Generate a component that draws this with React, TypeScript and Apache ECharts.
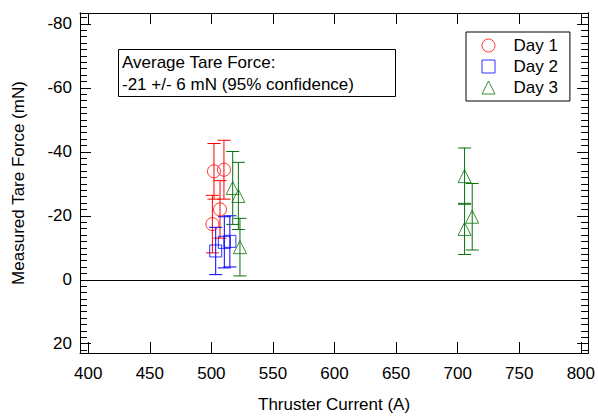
import React, { useEffect, useRef } from "react";
import * as echarts from "echarts";

const FONT = '"Liberation Sans", Arial, Helvetica, sans-serif';

// [current (A), tare force (mN), error half-width (mN)]
const day1: number[][] = [
  [502.1, -33.9, 8.7],
  [510.2, -34.4, 9.2],
  [507.0, -22.0, 9.0],
  [500.8, -17.4, 9.0],
];
const day2: number[][] = [
  [503.5, -9.0, 7.4],
  [510.5, -11.7, 8.0],
  [515.0, -12.0, 8.0],
];
const day3: number[][] = [
  [517.3, -28.7, 11.4],
  [521.9, -26.2, 10.5],
  [523.2, -10.2, 9.0],
  [705.6, -32.4, 8.8],
  [705.6, -15.9, 8.0],
  [711.8, -19.7, 10.4],
];

const xTicks = [400, 450, 500, 550, 600, 650, 700, 750, 800];
const yMajor = [-80, -60, -40, -20, 0, 20];
const yMinor = [
  -82, -80, -78, -76, -74, -72, -70, -68, -66, -64, -62, -60, -58, -56, -54,
  -52, -50, -48, -46, -44, -42, -40, -38, -36, -34, -32, -30, -28, -26, -24,
  -22, -20, -18, -16, -14, -12, -10, -8, -6, -4, -2, 0, 2, 4, 6, 8, 10, 12,
  14, 16, 18, 20, 22,
];

const seriesNames = ["Day 1", "Day 2", "Day 3"];
const seriesColors = ["#ff0000", "#0000ff", "#0a700a"];
const seriesSymbols = ["circle", "rect", "triangle"];
const seriesSizes = [13, 12, 13];
const seriesData = [day1, day2, day3];

const X_MIN = 393.3;
const X_MAX = 805.9;
const Y_MIN = -83.4;
const Y_MAX = 22.9;

export default function App() {
  const ref = useRef<HTMLDivElement>(null);

  useEffect(() => {
    if (!ref.current) return;
    const chart = echarts.init(ref.current, null, { renderer: "svg" });

    const black = "#000";
    const baseX = {
      type: "value",
      min: X_MIN,
      max: X_MAX,
      splitLine: { show: false },
      axisLine: { show: true, onZero: false, lineStyle: { color: black, width: 1 } },
    };
    const baseY = {
      type: "value",
      min: Y_MIN,
      max: Y_MAX,
      inverse: true,
      splitLine: { show: false },
      axisLine: { show: true, onZero: false, lineStyle: { color: black, width: 1 } },
    };

    const scatterSeries = seriesNames.map((name, i) => ({
      name,
      type: "scatter",
      xAxisIndex: 0,
      yAxisIndex: 0,
      symbol: seriesSymbols[i],
      symbolSize: seriesSizes[i],
      data: seriesData[i].map((d) => [d[0], d[1]]),
      itemStyle: {
        color: "rgba(0,0,0,0)",
        borderColor: seriesColors[i],
        borderWidth: 1,
      },
      z: 4,
    }));

    const errSeries = seriesNames.map((name, i) => ({
      name: name + " error",
      type: "custom",
      xAxisIndex: 0,
      yAxisIndex: 0,
      data: seriesData[i],
      encode: { x: 0, y: 1 },
      z: 3,
      renderItem: (params: any, api: any) => {
        const x = api.value(0);
        const y = api.value(1);
        const e = api.value(2);
        const p1 = api.coord([x, y - e]);
        const p2 = api.coord([x, y + e]);
        const hw = 6.5;
        const style = { stroke: seriesColors[i], lineWidth: 1 };
        return {
          type: "group",
          children: [
            { type: "line", shape: { x1: p1[0], y1: p1[1], x2: p2[0], y2: p2[1] }, style },
            { type: "line", shape: { x1: p1[0] - hw, y1: p1[1], x2: p1[0] + hw, y2: p1[1] }, style },
            { type: "line", shape: { x1: p2[0] - hw, y1: p2[1], x2: p2[0] + hw, y2: p2[1] }, style },
          ],
        };
      },
    }));

    const option: any = {
      animation: false,
      backgroundColor: "#fff",
      textStyle: { fontFamily: FONT },
      grid: { left: 80, right: 8, top: 13, bottom: 61, containLabel: false },
      legend: {
        orient: "vertical",
        left: 466,
        top: 32,
        borderColor: black,
        borderWidth: 1,
        padding: [5, 12, 5, 15.5],
        itemWidth: 13,
        itemHeight: 13,
        itemGap: 4,
        textStyle: {
          fontSize: 17,
          color: black,
          fontFamily: FONT,
          padding: [0, 0, 0, 13.5],
        },
        data: seriesNames.map((name, i) => ({
          name,
          icon: seriesSymbols[i],
          itemStyle: {
            color: "rgba(0,0,0,0)",
            borderColor: seriesColors[i],
            borderWidth: 1,
          },
        })),
      },
      xAxis: [
        {
          ...baseX,
          position: "bottom",
          axisTick: { show: true, inside: true, length: 11, customValues: xTicks, lineStyle: { color: black } },
          axisLabel: { show: true, customValues: xTicks, margin: 12, fontSize: 17, color: black, fontFamily: FONT },
          name: "Thruster Current (A)",
          nameLocation: "middle",
          nameGap: 43,
          nameTextStyle: { fontSize: 17, color: black, fontFamily: FONT },
        },
        {
          ...baseX,
          position: "top",
          axisTick: { show: true, inside: true, length: 11, customValues: xTicks, lineStyle: { color: black } },
          axisLabel: { show: false },
        },
      ],
      yAxis: [
        {
          ...baseY,
          position: "left",
          axisTick: { show: true, inside: true, length: 11, customValues: yMajor, lineStyle: { color: black } },
          axisLabel: { show: true, customValues: yMajor, margin: 8, fontSize: 17, color: black, fontFamily: FONT },
          name: "Measured Tare Force (mN)",
          nameLocation: "middle",
          nameGap: 53,
          nameTextStyle: { fontSize: 17, color: black, fontFamily: FONT },
        },
        {
          ...baseY,
          position: "left",
          axisTick: { show: true, inside: true, length: 7, customValues: yMinor, lineStyle: { color: black } },
          axisLabel: { show: false },
        },
        {
          ...baseY,
          position: "right",
          axisTick: { show: true, inside: true, length: 11, customValues: yMajor, lineStyle: { color: black } },
          axisLabel: { show: false },
        },
        {
          ...baseY,
          position: "right",
          axisTick: { show: true, inside: true, length: 7, customValues: yMinor, lineStyle: { color: black } },
          axisLabel: { show: false },
        },
      ],
      graphic: [
        {
          type: "rect",
          z: 10,
          shape: { x: 118.5, y: 49.5, width: 277, height: 47 },
          style: { fill: "#fff", stroke: black, lineWidth: 1 },
        },
        {
          type: "text",
          z: 11,
          x: 122,
          y: 62,
          style: {
            text: "Average Tare Force:",
            fontSize: 17,
            fontFamily: FONT,
            fill: black,
            verticalAlign: "middle",
          },
        },
        {
          type: "text",
          z: 11,
          x: 122,
          y: 84.5,
          style: {
            text: "-21 +/- 6 mN (95% confidence)",
            fontSize: 17,
            fontFamily: FONT,
            fill: black,
            verticalAlign: "middle",
          },
        },
      ],
      series: [
        {
          name: "zero",
          type: "line",
          xAxisIndex: 0,
          yAxisIndex: 0,
          data: [],
          markLine: {
            silent: true,
            symbol: "none",
            label: { show: false },
            lineStyle: { color: black, width: 1, type: "solid" },
            data: [{ yAxis: 0 }],
          },
          z: 1,
        },
        ...errSeries,
        ...scatterSeries,
      ],
    };

    chart.setOption(option);
    return () => chart.dispose();
  }, []);

  return (
    <div
      ref={ref}
      style={{ position: "fixed", left: 0, top: 0, width: 598, height: 418 }}
    />
  );
}
